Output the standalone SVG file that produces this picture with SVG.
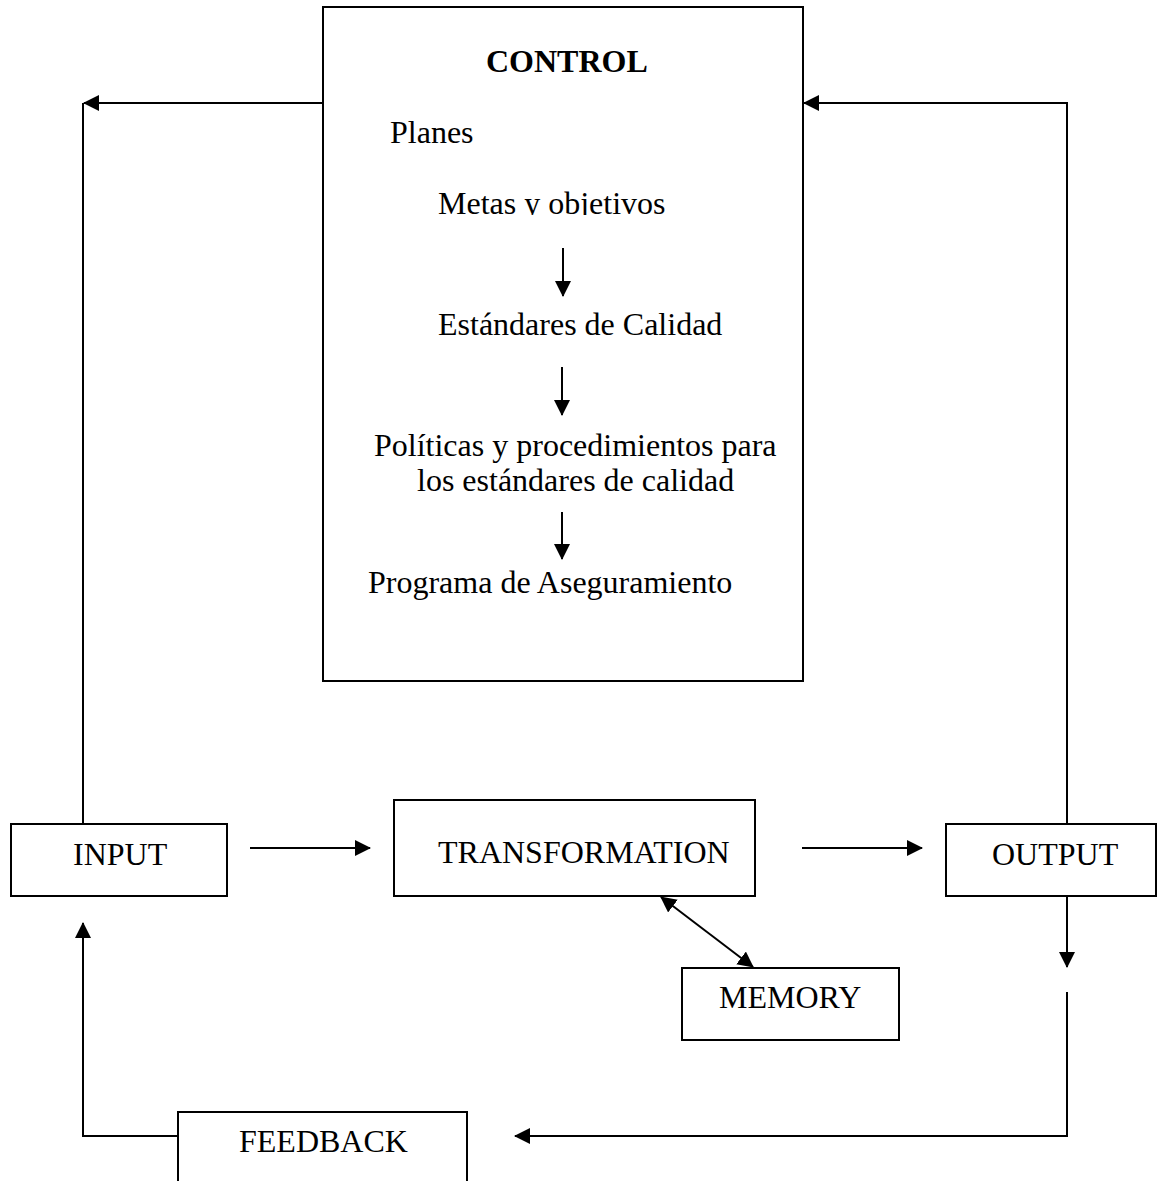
<svg xmlns="http://www.w3.org/2000/svg" width="1158" height="1181" viewBox="0 0 1158 1181">
<style>
.box{fill:#fff;stroke:#000;stroke-width:2}
.t{font-family:"Liberation Serif","Times New Roman",serif;font-size:32px;fill:#000}
.b{font-weight:bold}
.c{fill:none;stroke:#000;stroke-width:2}
</style>
<defs>
<marker id="ah" markerUnits="userSpaceOnUse" markerWidth="16" markerHeight="16" refX="15" refY="8" orient="auto-start-reverse" viewBox="0 0 16 16">
<path d="M0,0 L16,8 L0,16 z" fill="#000"/>
</marker>
<clipPath id="metasClip"><rect x="420" y="170" width="280" height="45"/></clipPath>
</defs>
<rect width="1158" height="1181" fill="#fff"/>
<g id="control">
<rect class="box" x="323" y="7" width="480" height="674"/>
<text class="t b" x="486" y="72">CONTROL</text>
<text class="t" x="390" y="143">Planes</text>
<text class="t" x="438" y="214" clip-path="url(#metasClip)">Metas y objetivos</text>
<text class="t" x="438" y="335">Estándares de Calidad</text>
<text class="t" x="374" y="456">Políticas y procedimientos para</text>
<text class="t" x="417" y="491">los estándares de calidad</text>
<text class="t" x="368" y="593">Programa de Aseguramiento</text>
</g>
<g id="input">
<rect class="box" x="11" y="824" width="216" height="72"/>
<text class="t" x="73" y="865">INPUT</text>
</g>
<g id="transformation">
<rect class="box" x="394" y="800" width="361" height="96"/>
<text class="t" x="438" y="863">TRANSFORMATION</text>
</g>
<g id="output">
<rect class="box" x="946" y="824" width="210" height="72"/>
<text class="t" x="992" y="865">OUTPUT</text>
</g>
<g id="memory">
<rect class="box" x="682" y="968" width="217" height="72"/>
<text class="t" x="719" y="1008">MEMORY</text>
</g>
<g id="feedback">
<rect class="box" x="178" y="1112" width="289" height="90"/>
<text class="t" x="239" y="1152">FEEDBACK</text>
</g>
<g id="connectors">
<path class="c" d="M323,103 H84" marker-end="url(#ah)"/>
<path class="c" d="M83,824 V103"/>
<path class="c" d="M1067,824 V103 H804" marker-end="url(#ah)"/>
<path class="c" d="M250,848 H370" marker-end="url(#ah)"/>
<path class="c" d="M802,848 H922" marker-end="url(#ah)"/>
<path class="c" d="M661,897 L753,967" marker-start="url(#ah)" marker-end="url(#ah)"/>
<path class="c" d="M1067,896 V967" marker-end="url(#ah)"/>
<path class="c" d="M1067,992 V1136 H515" marker-end="url(#ah)"/>
<path class="c" d="M178,1136 H83 V923" marker-end="url(#ah)"/>
<path class="c" d="M563,248 V296" marker-end="url(#ah)"/>
<path class="c" d="M562,367 V415" marker-end="url(#ah)"/>
<path class="c" d="M562,512 V559" marker-end="url(#ah)"/>
</g>
</svg>
